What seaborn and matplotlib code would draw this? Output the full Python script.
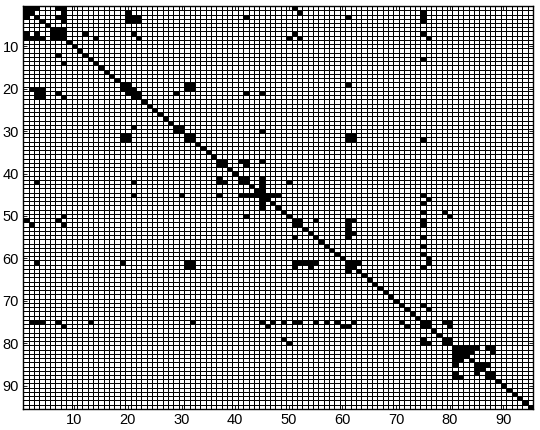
import numpy as np
import matplotlib
matplotlib.use("Agg")
import matplotlib.pyplot as plt
import seaborn as sns
from matplotlib.colors import ListedColormap

n = 95
# nonzeros below the diagonal (1-based row, col); the matrix is symmetric, full diagonal
nz_rows = [2, 3, 7, 8, 8, 7, 8, 8, 7, 8, 8,
           12, 14,
           20, 20, 20, 21, 21, 22, 22, 21, 22,
           20, 21, 22, 29, 30,
           31, 31, 32, 32, 32,
           38, 41, 42, 42, 42,
           42, 42, 45, 45, 45,
           45, 45, 45, 45, 46, 47, 48,
           50, 51, 52, 50, 51, 52, 52, 55,
           61, 61, 61, 61, 62, 62,
           61, 61, 61, 61, 61, 62, 62, 62, 63,
           75, 75, 75, 75, 76, 75, 75,
           75, 76, 75, 75, 75, 75, 75, 75, 75, 75, 76, 76,
           75, 76, 76, 79, 80,
           79, 80, 80, 80,
           82, 83, 84, 85, 83, 84,
           87, 88, 88, 86, 87, 88]
nz_cols = [1, 1, 1, 1, 2, 3, 3, 4, 6, 6, 7,
           7, 8,
           2, 3, 4, 3, 4, 3, 4, 7, 8,
           19, 20, 21, 21, 29,
           19, 20, 19, 20, 31,
           37, 37, 37, 38, 41,
           3, 21, 21, 30, 37,
           41, 42, 43, 44, 45, 45, 45,
           42, 1, 2, 8, 7, 8, 51, 51,
           3, 19, 31, 32, 31, 32,
           51, 52, 53, 54, 55, 51, 54, 61, 61,
           2, 3, 4, 7, 8, 13, 32,
           45, 46, 47, 49, 51, 52, 55, 57, 59, 62, 60, 61,
           71, 72, 75, 49, 50,
           75, 75, 76, 79,
           81, 81, 81, 81, 82, 82,
           81, 81, 82, 85, 85, 87]
ticks = [10, 20, 30, 40, 50, 60, 70, 80, 90]

A = np.zeros((n, n))
A[np.arange(n), np.arange(n)] = 1
r = np.array(nz_rows) - 1
c = np.array(nz_cols) - 1
A[r, c] = 1
A[c, r] = 1

plt.rcParams['font.family'] = ['Liberation Sans', 'DejaVu Sans']
fig = plt.figure(figsize=(5.4, 4.3), dpi=100)
ax = fig.add_axes([0.043, 0.049, 0.944, 0.937])
sns.heatmap(A, cmap=ListedColormap(['white', 'black']), vmin=0, vmax=1, cbar=False,
            linewidths=0.6, linecolor='black', xticklabels=False, yticklabels=False, ax=ax)
ax.set_xticks(np.array(ticks) - 0.5)
ax.set_xticklabels(ticks)
ax.set_yticks(np.array(ticks) - 0.5)
ax.set_yticklabels(ticks, rotation=0)
ax.tick_params(direction='in', length=3, width=0.6, top=True, right=True,
               labelsize=10.5, pad=3)
for s in ax.spines.values():
    s.set_visible(True)
    s.set_linewidth(1)
plt.savefig('out.png', dpi=100)
